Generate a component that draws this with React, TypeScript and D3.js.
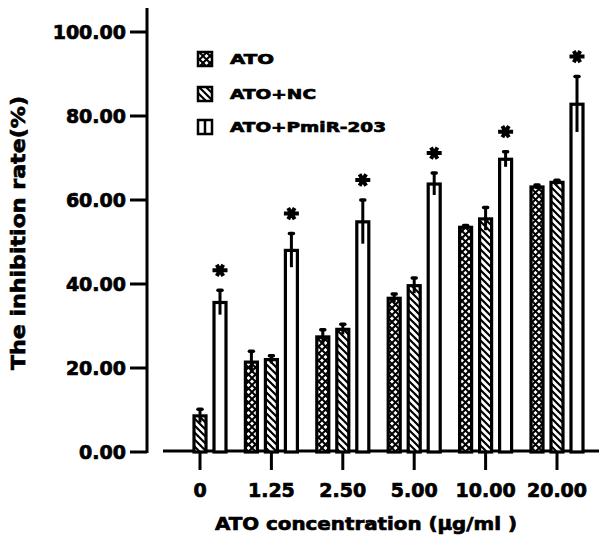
import React from "react";
import * as d3 from "d3";

const categories = ["0", "1.25", "2.50", "5.00", "10.00", "20.00"];
const seriesNames = ["ATO", "ATO+NC", "ATO+PmiR-203"];
const atoValues = [0, 21.4, 27.4, 36.6, 53.5, 63.1];
const atoErrors = [0, 2.6, 1.7, 1.0, 0.4, 0.5];
const ncValues = [8.6, 22.0, 29.2, 39.6, 55.5, 64.2];
const ncErrors = [1.6, 0.9, 1.2, 1.8, 2.7, 0.5];
const pmiValues = [35.6, 48.0, 54.8, 63.8, 69.7, 82.8];
const pmiErrors = [2.9, 4.0, 5.2, 2.6, 1.8, 6.6];
const yTicks = [0, 20, 40, 60, 80, 100];

const FONT = "'DejaVu Sans', sans-serif";
const heavy = { stroke: "#000", strokeWidth: 0.7 };

export default function App() {
  const W = 602, H = 544;
  const y = d3.scaleLinear().domain([0, 100]).range([452, 32]);
  const x = d3.scalePoint<string>().domain(categories).range([200, 557]);
  const sub = d3.scalePoint<string>().domain(seriesNames).range([-20, 20]);
  const barW = 12;
  const series = [
    { name: seriesNames[0], values: atoValues, errors: atoErrors, fill: "url(#cross)" },
    { name: seriesNames[1], values: ncValues, errors: ncErrors, fill: "url(#stripe)" },
    { name: seriesNames[2], values: pmiValues, errors: pmiErrors, fill: "#fff" },
  ];
  const starPath = (cx: number, cy: number) => {
    const r = 7.5, r2 = 6.5;
    const a = Math.PI / 3;
    return `M${cx - r},${cy}L${cx + r},${cy}` +
      `M${cx - r2 * Math.cos(a)},${cy - r2 * Math.sin(a)}L${cx + r2 * Math.cos(a)},${cy + r2 * Math.sin(a)}` +
      `M${cx + r2 * Math.cos(a)},${cy - r2 * Math.sin(a)}L${cx - r2 * Math.cos(a)},${cy + r2 * Math.sin(a)}`;
  };
  const legendY = [59, 94, 127];
  return (
    <svg width={W} height={H} style={{ position: "absolute", left: 0, top: 0, background: "#fff" }}>
      <defs>
        <pattern id="cross" patternUnits="userSpaceOnUse" width="7" height="7">
          <rect width="7" height="7" fill="#fff" />
          <path d="M-1,-1L8,8M8,-1L-1,8" stroke="#000" strokeWidth="2" />
        </pattern>
        <pattern id="stripe" patternUnits="userSpaceOnUse" width="7" height="7">
          <rect width="7" height="7" fill="#fff" />
          <path d="M-1,-1L8,8M-4.5,2.5L-1,6M5.5,-4.5L9,-1M-1,6L2.5,9.5M6,-1L9.5,2.5" stroke="#000" strokeWidth="2.2" />
        </pattern>
      </defs>
      {/* Y axis */}
      <line x1={147} x2={147} y1={8} y2={453} stroke="#000" strokeWidth={3} />
      {yTicks.map((t) => (
        <g key={t}>
          <line x1={130} x2={147} y1={y(t)} y2={y(t)} stroke="#000" strokeWidth={3} />
          <text x={126} y={y(t)} dy="0.36em" textAnchor="end" fontFamily={FONT} fontWeight="bold" fontSize={19} {...heavy}>
            {t.toFixed(2)}
          </text>
        </g>
      ))}
      <text transform={`translate(25,233) rotate(-90)`} textAnchor="middle" fontFamily={FONT} fontWeight="bold" fontSize={20}
        textLength={274} lengthAdjust="spacingAndGlyphs" {...heavy}>
        The inhibition rate(%)
      </text>
      {/* X axis */}
      <line x1={163} x2={599} y1={451} y2={451} stroke="#000" strokeWidth={3} />
      {categories.map((c) => (
        <g key={c}>
          <line x1={x(c)} x2={x(c)} y1={451} y2={470} stroke="#000" strokeWidth={3} />
          <text x={x(c)} y={497} textAnchor="middle" fontFamily={FONT} fontWeight="bold" fontSize={19} {...heavy}>
            {c}
          </text>
        </g>
      ))}
      <text x={366} y={530} textAnchor="middle" fontFamily={FONT} fontWeight="bold" fontSize={18.5}
        textLength={302} lengthAdjust="spacingAndGlyphs" {...heavy}>
        ATO concentration (μg/ml )
      </text>
      {/* Bars */}
      {series.map((s) => (
        <g key={s.name}>
          {categories.map((c, i) => {
            const v = s.values[i];
            if (v <= 0) return null;
            const cx = (x(c) as number) + (sub(s.name) as number);
            return (
              <g key={c}>
                <rect x={cx - barW / 2} y={y(v)} width={barW} height={y(0) - y(v)} fill={s.fill} stroke="#000" strokeWidth={3.2} />
                <line x1={cx} x2={cx} y1={y(v - s.errors[i])} y2={y(v + s.errors[i])} stroke="#000" strokeWidth={3} />
                <line x1={cx - 2} x2={cx + 2} y1={y(v + s.errors[i])} y2={y(v + s.errors[i])} stroke="#000" strokeWidth={3.5} strokeLinecap="round" />
              </g>
            );
          })}
        </g>
      ))}
      {/* Stars */}
      {categories.map((c, i) => {
        const cx = (x(c) as number) + (sub(seriesNames[2]) as number);
        return <path key={c} d={starPath(cx, y(pmiValues[i] + pmiErrors[i]) - 20)} stroke="#000" strokeWidth={4} fill="none" />;
      })}
      {/* Legend */}
      {series.map((s, i) => (
        <g key={s.name}>
          <rect x={198} y={legendY[i] - 7} width={14} height={14} fill={s.fill} stroke="#000" strokeWidth={2.5} />
          {i === 2 && <line x1={205} x2={205} y1={legendY[i] - 7} y2={legendY[i] + 7} stroke="#000" strokeWidth={2.5} />}
          <text x={230} y={legendY[i]} dy="0.36em" fontFamily={FONT} fontWeight="bold" fontSize={14.5}
            textLength={[44, 86, 156][i]} lengthAdjust="spacingAndGlyphs" {...heavy}>
            {s.name}
          </text>
        </g>
      ))}
    </svg>
  );
}
